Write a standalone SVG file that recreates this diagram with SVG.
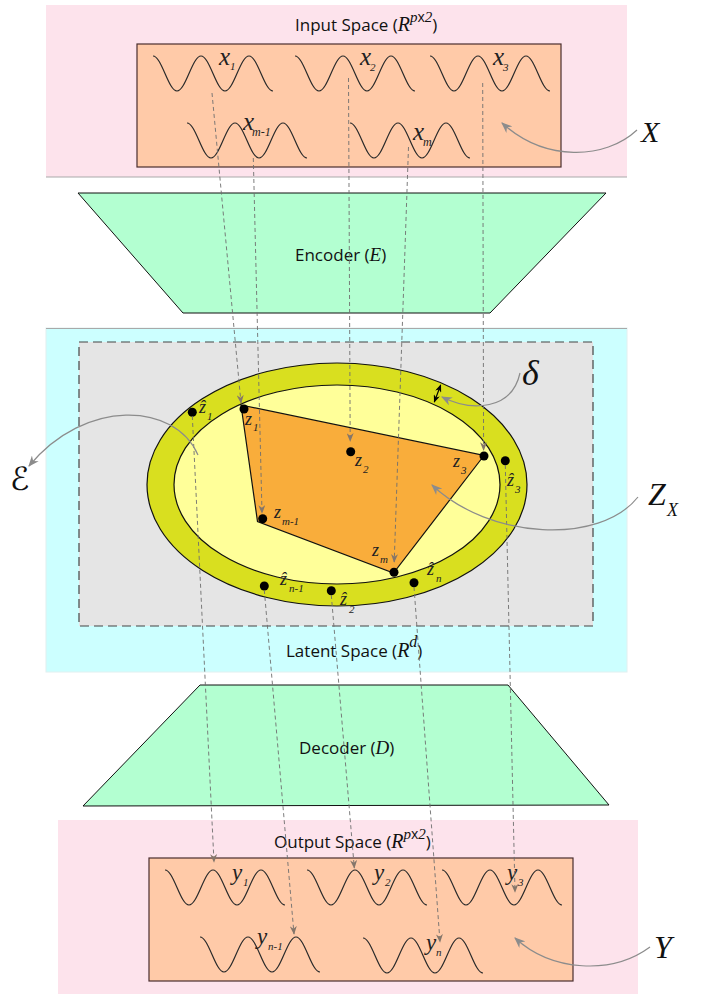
<svg xmlns="http://www.w3.org/2000/svg" width="702" height="994" viewBox="0 0 702 994">
<style>
.lbl{font-family:"Open Sans","Liberation Sans",sans-serif;font-size:17px;fill:#111}
.mi{font-family:"Liberation Serif",serif;font-style:italic}
.m{font-family:"Liberation Serif","DejaVu Serif",serif;font-style:italic;fill:#222}
.big{font-family:"Liberation Serif",serif;font-style:italic;fill:#111}
.dash{stroke:#6e6e6e;stroke-width:0.9;stroke-dasharray:4 3;fill:none;marker-end:url(#ah)}
.wave{fill:none;stroke:#2a2a2a;stroke-width:1.2}
.ann{fill:none;stroke:#8c8c8c;stroke-width:1.2;marker-end:url(#ag)}
.dot{fill:#000}
.box{fill:#ffcaa8;stroke:#4a2e2e;stroke-width:1.2}
</style>
<defs>
<marker id="ah" viewBox="0 0 10 8" refX="9" refY="4" markerWidth="9" markerHeight="7" markerUnits="userSpaceOnUse" orient="auto"><path d="M0,0 L10,4 L0,8 L3,4 z" fill="#85766a"/></marker>
<marker id="ag" viewBox="0 0 10 8" refX="9" refY="4" markerWidth="11" markerHeight="9" markerUnits="userSpaceOnUse" orient="auto"><path d="M0,0 L10,4 L0,8 L3,4 z" fill="#8c8c8c"/></marker>
<marker id="ab" viewBox="0 0 10 8" refX="9" refY="4" markerWidth="8" markerHeight="6.5" markerUnits="userSpaceOnUse" orient="auto-start-reverse"><path d="M0,0 L10,4 L0,8 L3,4 z" fill="#000"/></marker>
<path id="wv" d="M0,0 C8.7,0 15.3,35 24,35 C32.7,35 39.3,0 48,0 C56.7,0 63.3,35 72,35 C80.7,35 87.3,0 96,0 C104.7,0 111.3,35 120,35"/>
</defs>

<g id="input-space">
<rect x="46" y="5" width="581" height="172" fill="#fde3ec"/>
<line x1="46" y1="177" x2="627" y2="177" stroke="#a9a9a9" stroke-width="1.2"/>
<text class="lbl" x="295" y="31">Input Space (<tspan class="mi" font-size="20">R</tspan><tspan class="mi" font-size="15" dy="-9">p</tspan><tspan font-size="14">x</tspan><tspan class="mi" font-size="15">2</tspan><tspan dy="9">)</tspan></text>
</g>
<g id="X-box">
<rect class="box" x="137" y="44" width="424" height="123"/>
<use href="#wv" class="wave" x="153" y="56"/>
<use href="#wv" class="wave" x="295" y="56"/>
<use href="#wv" class="wave" x="430" y="56"/>
<use href="#wv" class="wave" x="187" y="123"/>
<use href="#wv" class="wave" x="350" y="123"/>
<text class="m" x="219" y="65" font-size="25">x<tspan x="230" y="70" font-size="11">1</tspan></text>
<text class="m" x="360" y="65" font-size="25">x<tspan x="370" y="71" font-size="11">2</tspan></text>
<text class="m" x="493" y="65" font-size="25">x<tspan x="503" y="71" font-size="11">3</tspan></text>
<text class="m" x="243" y="130" font-size="25">x<tspan x="252" y="136" font-size="12">m-1</tspan></text>
<text class="m" x="413" y="140" font-size="25">x<tspan x="423" y="146" font-size="12">m</tspan></text>
</g>

<g id="encoder">
<polygon points="78,193 606,193 490,313 183,313" fill="#b3ffd1" stroke="#111" stroke-width="1"/>
<text class="lbl" x="295" y="261">Encoder (<tspan class="mi" font-size="19">E</tspan>)</text>
</g>

<g id="latent-space">
<rect x="46" y="328" width="581" height="344" fill="#ccffff" stroke="#e0f0f0" stroke-width="1"/>
<line x1="46" y1="328.5" x2="627" y2="328.5" stroke="#a9a9a9" stroke-width="1.2"/>
<rect x="79" y="342" width="514" height="284" fill="#e5e5e5" stroke="#444" stroke-width="1.2" stroke-dasharray="9 5"/>
<text class="lbl" x="286" y="657">Latent Space (<tspan class="mi" font-size="20">R</tspan><tspan class="mi" font-size="16" dy="-10">d</tspan><tspan dy="10">)</tspan></text>
</g>

<g id="epsilon-region">
<ellipse cx="337" cy="484.5" rx="190" ry="121.5" fill="#d9df1f" stroke="#111" stroke-width="1.2"/>
<ellipse cx="337" cy="484.5" rx="163" ry="99.5" fill="#ffff99" stroke="#111" stroke-width="1.2"/>
</g>

<g id="ZX-polygon">
<polygon points="241,405 484,455.5 393.5,573 257.5,521.5" fill="#f9ad3b" stroke="#111" stroke-width="1.2"/>
</g>

<g id="latent-points">
<circle class="dot" cx="244" cy="409" r="4.5"/>
<circle class="dot" cx="350.7" cy="451.7" r="4.5"/>
<circle class="dot" cx="484" cy="456" r="4.5"/>
<circle class="dot" cx="394" cy="572.3" r="4.5"/>
<circle class="dot" cx="262.7" cy="518.7" r="4.5"/>
<circle class="dot" cx="192.3" cy="412.3" r="4.5"/>
<circle class="dot" cx="505.3" cy="460.7" r="4.5"/>
<circle class="dot" cx="414" cy="582.7" r="4.5"/>
<circle class="dot" cx="264.3" cy="586" r="4.5"/>
<circle class="dot" cx="331.3" cy="590.7" r="4.5"/>
<text class="m" x="245" y="425" font-size="18">z<tspan x="253" y="431" font-size="11">1</tspan></text>
<text class="m" x="355" y="466" font-size="18">z<tspan x="363" y="473" font-size="11">2</tspan></text>
<text class="m" x="453" y="467" font-size="18">z<tspan x="461" y="474" font-size="11">3</tspan></text>
<text class="m" x="274" y="518" font-size="18">z<tspan x="282" y="525" font-size="11">m-1</tspan></text>
<text class="m" x="372" y="556" font-size="18">z<tspan x="380" y="563" font-size="11">m</tspan></text>
<text class="m" x="199" y="413" font-size="18">ẑ<tspan x="207" y="420" font-size="11">1</tspan></text>
<text class="m" x="507" y="486" font-size="18">ẑ<tspan x="515" y="493" font-size="11">3</tspan></text>
<text class="m" x="427" y="575" font-size="18">ẑ<tspan x="436" y="582" font-size="11">n</tspan></text>
<text class="m" x="280" y="585" font-size="18">ẑ<tspan x="289" y="592" font-size="11">n-1</tspan></text>
<text class="m" x="340" y="605" font-size="18">ẑ<tspan x="349" y="613" font-size="11">2</tspan></text>
</g>

<g id="decoder">
<polygon points="200,685 508,685 609,805 83,806" fill="#b3ffd1" stroke="#111" stroke-width="1"/>
<text class="lbl" x="299" y="754">Decoder (<tspan class="mi" font-size="19">D</tspan>)</text>
</g>

<g id="output-space">
<rect x="58" y="820" width="580" height="174" fill="#fde3ec"/>
<text class="lbl" x="274" y="848">Output Space (<tspan class="mi" font-size="20">R</tspan><tspan class="mi" font-size="15" dy="-9">p</tspan><tspan font-size="14">x</tspan><tspan class="mi" font-size="15">2</tspan><tspan dy="9">)</tspan></text>
</g>
<g id="Y-box">
<rect class="box" x="149" y="858" width="424" height="123"/>
<use href="#wv" class="wave" x="165" y="870"/>
<use href="#wv" class="wave" x="307" y="870"/>
<use href="#wv" class="wave" x="442" y="870"/>
<use href="#wv" class="wave" x="200" y="937"/>
<use href="#wv" class="wave" x="363" y="938"/>
<text class="m" x="232" y="880" font-size="23">y<tspan x="243" y="886" font-size="11">1</tspan></text>
<text class="m" x="374" y="880" font-size="23">y<tspan x="385" y="886" font-size="11">2</tspan></text>
<text class="m" x="507" y="880" font-size="23">y<tspan x="518" y="886" font-size="11">3</tspan></text>
<text class="m" x="257" y="944" font-size="23">y<tspan x="268" y="950" font-size="11">n-1</tspan></text>
<text class="m" x="426" y="950" font-size="23">y<tspan x="436" y="956" font-size="11">n</tspan></text>
</g>

<g id="connectors">
<line class="dash" x1="212" y1="93" x2="241" y2="403"/>
<line class="dash" x1="253.3" y1="158" x2="262" y2="513"/>
<line class="dash" x1="348.5" y1="78" x2="350.2" y2="441"/>
<line class="dash" x1="408.5" y1="147" x2="394.2" y2="562"/>
<line class="dash" x1="482.7" y1="83" x2="483.6" y2="450"/>
<line class="dash" x1="192.3" y1="416" x2="214" y2="862"/>
<line class="dash" x1="264.3" y1="590" x2="294" y2="934"/>
<line class="dash" x1="331.3" y1="595" x2="354.3" y2="868"/>
<line class="dash" x1="414" y1="587" x2="440" y2="942"/>
<line class="dash" x1="505.3" y1="465" x2="515" y2="892"/>
<line x1="440.7" y1="385" x2="434.3" y2="402" stroke="#000" stroke-width="1.1" marker-start="url(#ab)" marker-end="url(#ab)"/>
<path class="ann" d="M637,130 C605,160 545,162 502,123"/>
<path class="ann" d="M650,947 C612,975 552,972 515,938"/>
<path class="ann" d="M638,497 C600,545 490,540 432,485"/>
<path class="ann" d="M520,373 C512,410 472,412 442,397"/>
<path class="ann" d="M198,455 C175,402 85,398 29,466"/>
</g>

<g id="annotations">
<text class="big" x="641" y="142" font-size="30">X</text>
<text class="big" x="654" y="958" font-size="32">Y</text>
<text class="big" x="522" y="385" font-size="36">δ</text>
<text class="big" x="648" y="505" font-size="32">Z<tspan x="667" y="516" font-size="18">X</tspan></text>
<text x="10" y="490" font-size="32" fill="#111" font-family="DejaVu Serif, DejaVu Sans, serif">ℰ</text>
</g>
</svg>
